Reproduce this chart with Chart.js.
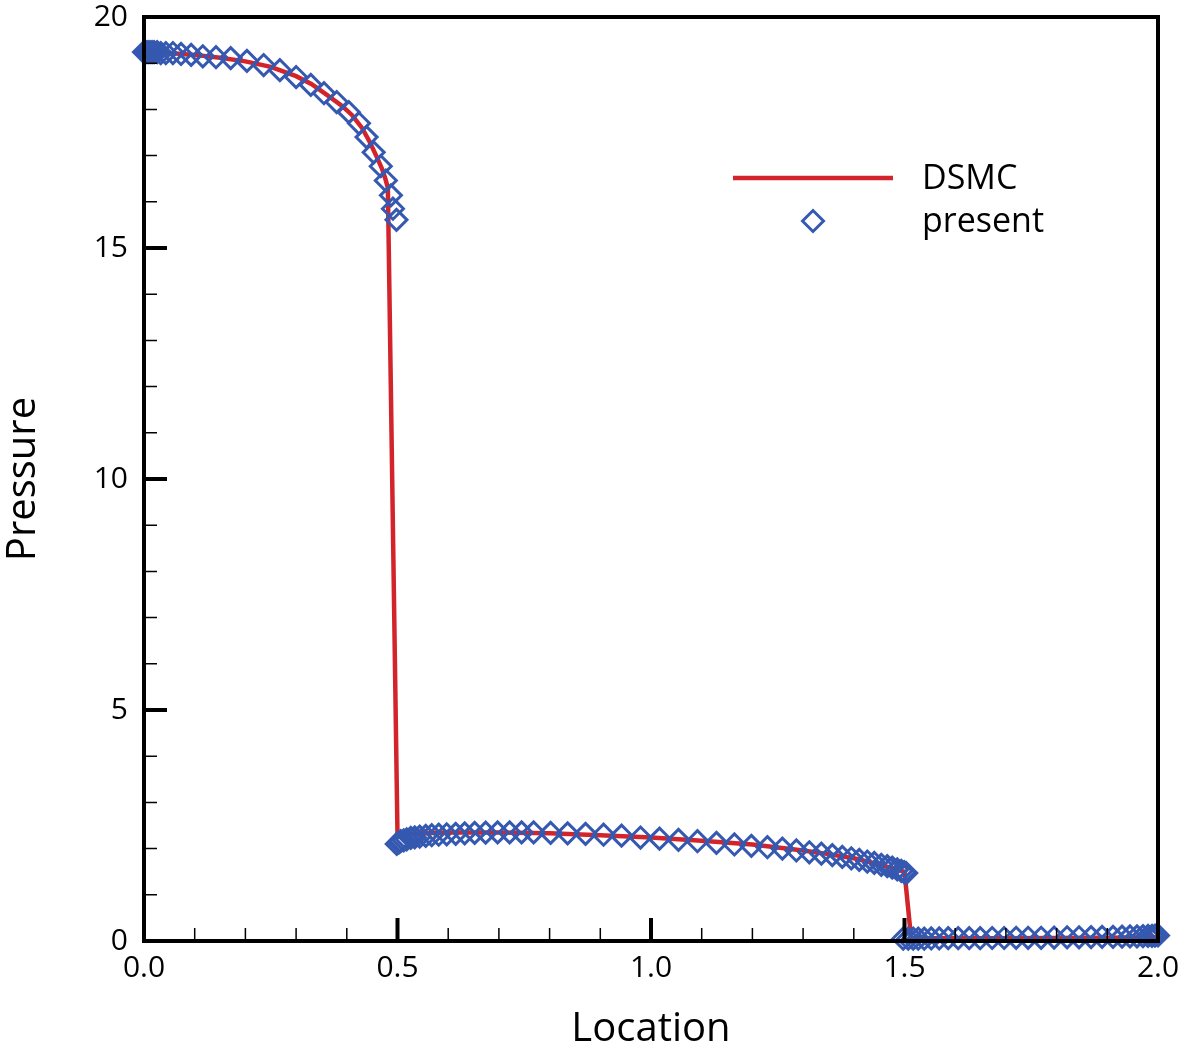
<!DOCTYPE html>
<html><head><meta charset="utf-8">
<script src="https://cdn.jsdelivr.net/npm/chart.js@4.4.1/dist/chart.umd.min.js"></script>
<style>html,body{margin:0;padding:0;background:#fff;} #wrap{width:1180px;height:1055px;position:relative;}</style>
</head><body><div id="wrap"><canvas id="c"></canvas></div>
<script>
// DSMC reference solution (line)
const dsmcX = [0, 0.05, 0.1, 0.15, 0.2, 0.25, 0.3, 0.33, 0.36, 0.39, 0.41, 0.43, 0.445, 0.46, 0.47, 0.476, 0.481,
  0.5, 0.55, 0.6, 0.7, 0.8, 0.9, 1.0, 1.1, 1.2, 1.3, 1.35, 1.4, 1.45, 1.48, 1.5,
  1.513, 1.6, 1.7, 1.8, 1.9, 2.0];
const dsmcP = [19.25, 19.22, 19.18, 19.12, 19.04, 18.92, 18.72, 18.55, 18.32, 18.08, 17.88, 17.6, 17.3, 16.95, 16.7, 16.5, 16.3,
  2.3, 2.33, 2.35, 2.35, 2.33, 2.29, 2.24, 2.17, 2.09, 1.96, 1.88, 1.79, 1.66, 1.56, 1.5,
  0.065, 0.06, 0.06, 0.065, 0.07, 0.08];

// present method (diamond markers)
const presentX = [0, 0.004, 0.008, 0.012, 0.016, 0.020, 0.026, 0.033, 0.043, 0.057, 0.073, 0.093, 0.116, 0.142, 0.171, 0.203, 0.236, 0.268, 0.300, 0.329, 0.355, 0.380, 0.404, 0.424, 0.439, 0.453, 0.467, 0.477, 0.487, 0.491, 0.498,
  0.4985, 0.5025, 0.5064, 0.5123, 0.5182, 0.5261, 0.534, 0.5438, 0.5557, 0.5675, 0.5813, 0.597, 0.6148, 0.6325, 0.6522, 0.6739, 0.6975, 0.7212, 0.7448, 0.7685, 0.802, 0.8355, 0.8709, 0.9064, 0.9419, 0.9793, 1.0168, 1.0542, 1.0916, 1.1291, 1.1645, 1.198, 1.2296, 1.2591, 1.2867, 1.3123, 1.336, 1.3576, 1.3773, 1.3951, 1.4108, 1.4266, 1.4404, 1.4542, 1.466, 1.4759, 1.4857, 1.4936, 1.4995, 1.5034,
  1.4975, 1.5074, 1.5172, 1.5271, 1.5389, 1.5527, 1.5685, 1.5862, 1.6059, 1.6276, 1.6493, 1.6729, 1.6966, 1.7202, 1.7438, 1.7695, 1.7951, 1.8207, 1.8443, 1.868, 1.8897, 1.9113, 1.9291, 1.9448, 1.9586, 1.9704, 1.9803, 1.9882, 1.9941, 2.0];
const presentP = [19.24, 19.24, 19.24, 19.24, 19.24, 19.24, 19.24, 19.22, 19.22, 19.22, 19.20, 19.18, 19.15, 19.13, 19.11, 19.05, 18.96, 18.85, 18.70, 18.53, 18.35, 18.16, 17.94, 17.70, 17.40, 17.07, 16.77, 16.46, 16.14, 15.85, 15.61,
  2.10, 2.13, 2.16, 2.18, 2.20, 2.23, 2.245, 2.26, 2.275, 2.29, 2.30, 2.31, 2.32, 2.33, 2.34, 2.345, 2.35, 2.35, 2.35, 2.35, 2.34, 2.33, 2.32, 2.30, 2.28, 2.24, 2.215, 2.19, 2.16, 2.125, 2.09, 2.06, 2.03, 2.00, 1.96, 1.92, 1.89, 1.86, 1.82, 1.79, 1.755, 1.72, 1.69, 1.65, 1.62, 1.59, 1.55, 1.52, 1.49, 1.47,
  0.05, 0.05, 0.05, 0.05, 0.05, 0.055, 0.055, 0.06, 0.06, 0.06, 0.06, 0.065, 0.065, 0.07, 0.07, 0.07, 0.075, 0.08, 0.08, 0.085, 0.09, 0.09, 0.095, 0.10, 0.10, 0.105, 0.11, 0.11, 0.115, 0.12];

const xMajorTicks = [0, 0.5, 1.0, 1.5, 2.0];
const xMinorTicks = [0.1, 0.2, 0.3, 0.4, 0.6, 0.7, 0.8, 0.9, 1.1, 1.2, 1.3, 1.4, 1.6, 1.7, 1.8, 1.9];
const yMajorTicks = [0, 5, 10, 15, 20];
const yMinorTicks = [1, 2, 3, 4, 6, 7, 8, 9, 11, 12, 13, 14, 16, 17, 18, 19];
const seriesNames = ['DSMC', 'present'];
const axisTitles = { x: 'Location', y: 'Pressure' };

const RED = '#d3242c';
const BLUE = '#3558b0';
const FONT = "'Open Sans', 'Noto Sans', sans-serif";

const framePlugin = {
  id: 'frame',
  afterDraw(chart) {
    const { ctx, chartArea: a, scales: { x, y } } = chart;
    ctx.save();
    ctx.strokeStyle = '#000';
    ctx.lineCap = 'butt';
    // minor ticks (inward)
    ctx.lineWidth = 1.5;
    ctx.beginPath();
    xMinorTicks.forEach(v => { const px = x.getPixelForValue(v); ctx.moveTo(px, a.bottom); ctx.lineTo(px, a.bottom - 13); });
    yMinorTicks.forEach(v => { const py = y.getPixelForValue(v); ctx.moveTo(a.left, py); ctx.lineTo(a.left + 13, py); });
    ctx.stroke();
    // major ticks (inward)
    ctx.lineWidth = 4;
    ctx.beginPath();
    xMajorTicks.forEach(v => { const px = x.getPixelForValue(v); ctx.moveTo(px, a.bottom); ctx.lineTo(px, a.bottom - 23); });
    yMajorTicks.forEach(v => { const py = y.getPixelForValue(v); ctx.moveTo(a.left, py); ctx.lineTo(a.left + 23, py); });
    ctx.stroke();
    // frame
    ctx.lineWidth = 4;
    ctx.strokeRect(a.left, a.top, a.right - a.left, a.bottom - a.top);

    // legend
    ctx.strokeStyle = RED;
    ctx.lineWidth = 4.5;
    ctx.beginPath(); ctx.moveTo(733, 178); ctx.lineTo(893, 178); ctx.stroke();
    ctx.strokeStyle = BLUE;
    ctx.lineWidth = 3;
    ctx.beginPath();
    ctx.moveTo(813 - 10.5, 221); ctx.lineTo(813, 210.5); ctx.lineTo(813 + 10.5, 221); ctx.lineTo(813, 231.5); ctx.closePath();
    ctx.stroke();
    ctx.fillStyle = '#000';
    ctx.font = "34px " + FONT;
    ctx.textAlign = 'left';
    ctx.textBaseline = 'alphabetic';
    ctx.fillText(seriesNames[0], 922, 189);
    ctx.fillText(seriesNames[1], 922, 232);
    ctx.restore();
  }
};

Chart.defaults.font.family = FONT;
Chart.defaults.color = '#000';

new Chart(document.getElementById('c'), {
  type: 'scatter',
  data: {
    datasets: [
      {
        label: seriesNames[1],
        data: presentX.map((v, i) => ({ x: v, y: presentP[i] })),
        showLine: false,
        pointStyle: 'rectRot',
        pointRadius: 10.5,
        pointBorderWidth: 3,
        pointBorderColor: BLUE,
        pointBackgroundColor: 'rgba(0,0,0,0)',
        clip: false
      },
      {
        label: seriesNames[0],
        data: dsmcX.map((v, i) => ({ x: v, y: dsmcP[i] })),
        showLine: true,
        pointRadius: 0,
        borderColor: RED,
        borderWidth: 4.5,
        tension: 0,
        clip: false
      }
    ]
  },
  options: {
    responsive: true,
    maintainAspectRatio: false,
    animation: false,
    events: [],
    layout: { padding: { top: 17, right: 22, left: 0, bottom: 0 } },
    plugins: { legend: { display: false }, tooltip: { enabled: false } },
    scales: {
      x: {
        type: 'linear', min: 0, max: 2,
        grid: { display: false, drawTicks: false },
        border: { display: false },
        afterBuildTicks: s => { s.ticks = xMajorTicks.map(v => ({ value: v })); },
        afterFit: s => { s.height = 114; s.paddingLeft = 0; s.paddingRight = 0; },
        ticks: { padding: 9, font: { size: 30 }, color: '#000', maxRotation: 0, callback: v => Number(v).toFixed(1) },
        title: { display: true, text: axisTitles.x, font: { size: 40 }, color: '#000', padding: { top: 0, bottom: 1 } }
      },
      y: {
        type: 'linear', min: 0, max: 20,
        grid: { display: false, drawTicks: false },
        border: { display: false },
        afterBuildTicks: s => { s.ticks = yMajorTicks.map(v => ({ value: v })); },
        afterFit: s => { s.width = 144; s.paddingTop = 0; s.paddingBottom = 0; },
        ticks: { padding: 16, font: { size: 30 }, color: '#000', callback: v => String(v) },
        title: { display: true, text: axisTitles.y, font: { size: 40 }, color: '#000', padding: { top: 0, bottom: 0 } }
      }
    }
  },
  plugins: [framePlugin]
});
</script>
</body></html>
